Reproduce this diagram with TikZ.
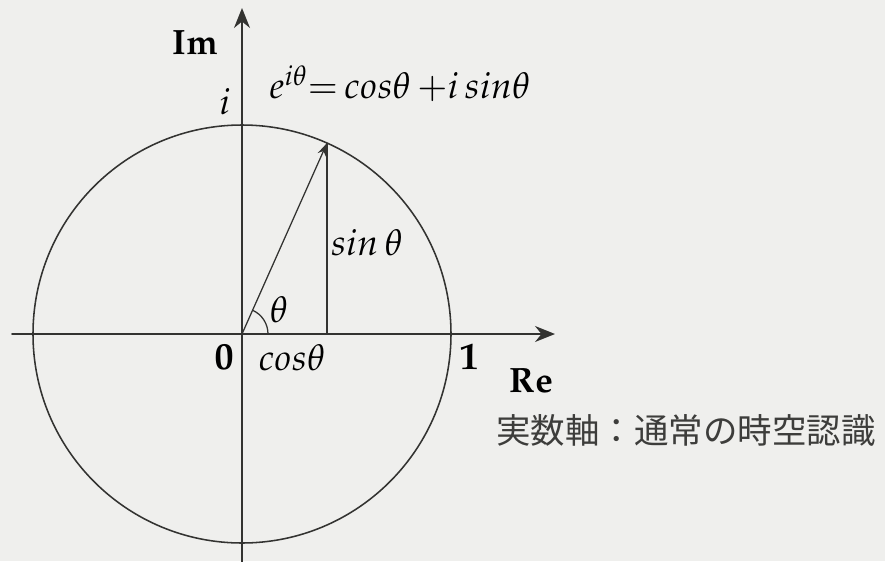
\documentclass[tikz,border=0pt]{standalone}
\usepackage{mathpazo}
\usepackage[no-math]{fontspec}
\newfontfamily\jpfont{Noto Sans CJK JP}
\usetikzlibrary{arrows.meta}

\definecolor{ink}{HTML}{333331}
\definecolor{paper}{HTML}{EFEFED}

\tikzset{
    axis/.style={ink, line width=1.3pt, -{Stealth[length=5mm, width=4mm]}},
    thin line/.style={ink, line width=0.9pt},
    mlabel/.style={inner sep=0pt, font=\fontsize{26}{30}\selectfont},
    blabel/.style={inner sep=0pt, font=\fontsize{25}{30}\selectfont},
    dlabel/.style={inner sep=0pt, font=\fontsize{27}{32}\selectfont},
}

\begin{document}
\begin{tikzpicture}[x=0.025cm, y=0.025cm, line cap=round, line join=round]

% paper and frame of the picture
\fill[paper] (-242,-227) rectangle (643,334);
\useasboundingbox (-242,-227) rectangle (643,334);

\def\rad{209}
\coordinate (O) at (0,0);
\coordinate (P) at (66:\rad);
\coordinate (Q) at (P|-O);

% unit circle and axes
\draw[thin line, line width=1.1pt] (O) circle[radius=\rad];
\coordinate (xs) at (-230,0);
\coordinate (xe) at (313,0);
\coordinate (ys) at (0,-240);
\coordinate (ye) at (0,326);
\draw[axis] (xs) -- (xe);
\draw[axis] (ys) -- (ye);

% vector and its projection
\draw[thin line, -{Stealth[length=3.2mm, width=2.2mm]}] (O) -- (P);
\draw[thin line] (P) -- (Q);
\draw[thin line] (26,0) arc[start angle=0, end angle=66, radius=26];

% labels
\node[blabel] (im) at (-47,291) {$\mathbf{Im}$};
\node[mlabel] (ilab) at (-17,232) {$i$};
\node[mlabel] (euler) at (158,250) {$e^{i\theta}{=}\,cos\theta\,{+}i\,sin\theta$};
\node[mlabel] (sinlab) at (125,91) {$sin\,\theta$};
\node[mlabel] (thlab) at (37,24) {$\theta$};
\node[dlabel] (zero) at (-18,-23) {$\mathbf{0}$};
\node[mlabel] (coslab) at (50,-24) {$cos\theta$};
\node[dlabel] (one) at (227,-23) {$\mathbf{1}$};
\node[blabel] (re) at (289,-47) {$\mathbf{Re}$};
\node[inner sep=0pt, text=ink!95, font=\jpfont\fontsize{24.5}{28}\selectfont] (jp) at (444,-96) {実数軸：通常の時空認識};

\end{tikzpicture}
\end{document}
